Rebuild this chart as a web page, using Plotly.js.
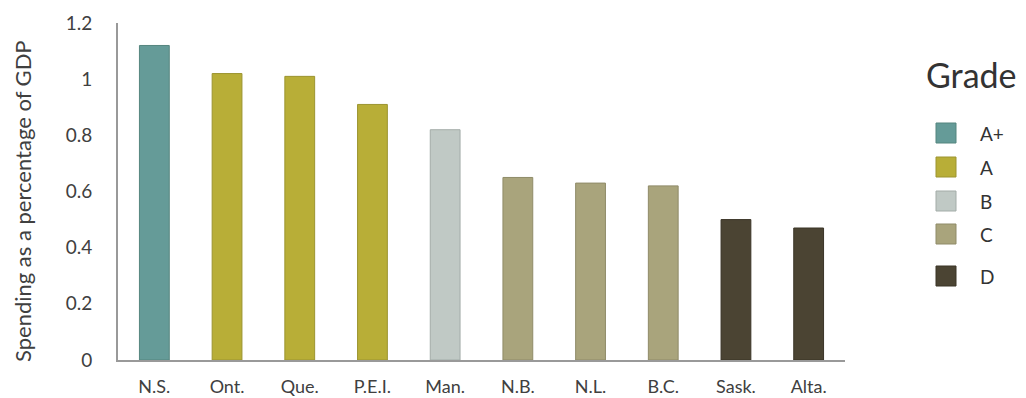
<!DOCTYPE html>
<html>
<head>
<meta charset="utf-8">
<script src="https://cdn.plot.ly/plotly-3.0.1.min.js"></script>
<style>html,body{margin:0;padding:0;background:#fff;}#chart{width:1026px;height:398px;}</style>
</head>
<body>
<div id="chart"></div>
<script>
// Data
const provinces = ["N.S.", "Ont.", "Que.", "P.E.I.", "Man.", "N.B.", "N.L.", "B.C.", "Sask.", "Alta."];
const spending = [1.12, 1.02, 1.01, 0.91, 0.82, 0.65, 0.63, 0.62, 0.50, 0.47];
const provinceGrades = ["A+", "A", "A", "A", "B", "C", "C", "C", "D", "D"];
const gradeNames = ["A+", "A", "B", "C", "D"];
const gradeColors = ["#659b98", "#b8ae37", "#c0c9c5", "#a9a47c", "#4b4433"];
const gradeLines = ["#55857f", "#9c9430", "#a3aca8", "#8f8b68", "#3a3427"];
const yTicks = [0, 0.2, 0.4, 0.6, 0.8, 1, 1.2];
const yTitle = "Spending as a percentage of GDP";
const legendTitle = "Grade";

const fill = provinceGrades.map(g => gradeColors[gradeNames.indexOf(g)]);
const outline = provinceGrades.map(g => gradeLines[gradeNames.indexOf(g)]);

const font = "Lato, 'Open Sans', sans-serif";

const trace = {
  type: "bar",
  x: provinces,
  y: spending,
  marker: { color: fill, line: { color: outline, width: 1 } },
  width: 0.41,
  showlegend: false,
  hoverinfo: "x+y"
};

// Legend built from grade arrays
const shapes = [];
const annotations = [];
const legendY = [133, 167, 201, 234, 276]; // pixel centers
const H = 398, mT = 23, mB = 38;
const plotH = H - mT - mB;
function py(pix) { return 1 - (pix - mT) / plotH; }
const W = 1026, mL = 118, mR = 181, plotW = W - mL - mR;
function px(pix) { return (pix - mL) / plotW; }

gradeNames.forEach((g, i) => {
  shapes.push({
    type: "rect", xref: "paper", yref: "paper",
    x0: px(936), x1: px(956), y0: py(legendY[i] - 10), y1: py(legendY[i] + 10),
    fillcolor: gradeColors[i], line: { color: gradeLines[i], width: 1 }
  });
  annotations.push({
    xref: "paper", yref: "paper", x: px(978), y: py(legendY[i]),
    xanchor: "left", yanchor: "middle", text: g, showarrow: false,
    font: { family: font, size: 19, color: "#333333" }
  });
});
annotations.push({
  xref: "paper", yref: "paper", x: px(924), y: py(74),
  xanchor: "left", yanchor: "middle", text: legendTitle, showarrow: false,
  font: { family: font, size: 34, color: "#333333" }
});
// y-axis title
annotations.push({
  xref: "paper", yref: "paper", x: px(22), y: py(201),
  xanchor: "center", yanchor: "middle", textangle: -90, text: yTitle, showarrow: false,
  font: { family: font, size: 22, color: "#404040" }
});

const layout = {
  width: 1026, height: 398,
  margin: { l: mL, r: mR, t: mT, b: mB, pad: 0 },
  paper_bgcolor: "#ffffff", plot_bgcolor: "#ffffff",
  font: { family: font, color: "#404040", size: 19 },
  xaxis: {
    type: "category",
    showline: true, linecolor: "#999999", linewidth: 2,
    showgrid: false, zeroline: false, ticks: "",
    ticklabelstandoff: 9,
    tickfont: { family: font, size: 18, color: "#404040" },
    fixedrange: true
  },
  yaxis: {
    range: [0, 1.2],
    tickvals: yTicks,
    ticktext: yTicks.map(v => String(v)),
    showline: true, linecolor: "#999999", linewidth: 2,
    showgrid: false, zeroline: false, ticks: "",
    ticklabelstandoff: 20,
    tickfont: { family: font, size: 19, color: "#404040" },
    fixedrange: true
  },
  shapes: shapes,
  annotations: annotations,
  bargap: 0.59
};

Plotly.newPlot("chart", [trace], layout, { displayModeBar: false, staticPlot: true });
</script>
</body>
</html>
